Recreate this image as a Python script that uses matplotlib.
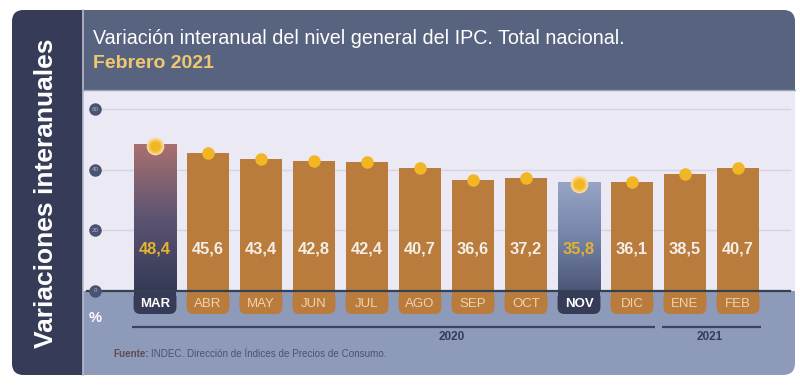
import numpy as np
import matplotlib
matplotlib.use('Agg')
import matplotlib.pyplot as plt
from matplotlib.patches import FancyBboxPatch, Rectangle
from matplotlib.colors import LinearSegmentedColormap

plt.rcParams['font.family'] = ['Liberation Sans', 'DejaVu Sans']

# -------------------- datos --------------------
meses = ['MAR', 'ABR', 'MAY', 'JUN', 'JUL', 'AGO', 'SEP', 'OCT', 'NOV', 'DIC', 'ENE', 'FEB']
valores = [48.4, 45.6, 43.4, 42.8, 42.4, 40.7, 36.6, 37.2, 35.8, 36.1, 38.5, 40.7]
destacados = ['MAR', 'NOV']
yticks = [0, 20, 40, 60]
anios = ['2020', '2021']
anio_inicio = [0, 10]     # indice del primer mes de cada año
anio_fin = [9, 11]        # indice del ultimo mes

# -------------------- colores --------------------
C_SIDE = '#363c57'
C_TITLE = '#58637f'
C_PLOT = '#ebe9f3'
C_BAND = '#8e9aba'
C_BAR = '#b97c3d'
C_LBL = '#f1d3ab'
C_DOT = '#f2b624'
C_GOLD = '#f0c870'

W, H = 800, 387
fig = plt.figure(figsize=(W / 100, H / 100), dpi=100)
fig.patch.set_facecolor('white')

# -------------------- fondo en pixeles --------------------
bg = fig.add_axes([0, 0, 1, 1])
bg.set_xlim(0, W)
bg.set_ylim(H, 0)
bg.axis('off')

bg.add_patch(FancyBboxPatch((12, 10), 783, 365, boxstyle='round,pad=0,rounding_size=12',
                            fc=C_BAND, ec='none'))
bg.add_patch(FancyBboxPatch((12, 10), 90, 365, boxstyle='round,pad=0,rounding_size=12',
                            fc=C_SIDE, ec='none'))
bg.add_patch(FancyBboxPatch((83, 10), 712, 110, boxstyle='round,pad=0,rounding_size=12',
                            fc=C_TITLE, ec='none'))
bg.add_patch(Rectangle((83, 10), 40, 80, fc=C_TITLE, ec='none'))
bg.add_patch(Rectangle((83, 90), 712, 201, fc=C_PLOT, ec='none'))
bg.add_patch(Rectangle((83, 291), 60, 84, fc=C_BAND, ec='none'))
bg.plot([83, 83], [10, 375], color='#b8bccb', lw=1.2)
bg.plot([83, 795], [90, 90], color='#9aa0b8', lw=1)

bg.text(46, 193, 'Variaciones interanuales', rotation=90, ha='center', va='center',
        color='white', fontsize=19, fontweight='bold')
bg.text(93, 38, 'Variación interanual del nivel general del IPC. Total nacional.',
        ha='left', va='center', color='white', fontsize=14.2)
bg.text(93, 64, 'Febrero 2021', ha='left', va='center', color=C_GOLD,
        fontsize=14, fontweight='bold')

# -------------------- eje del grafico --------------------
px_x = 53.0       # pixeles por mes
px_y = 3.033      # pixeles por punto porcentual
x0_px, y0_px = 155, 291
left_px, right_px, top_px, bot_px = 83, 795, 90, 375
ax = fig.add_axes([left_px / W, 1 - bot_px / H, (right_px - left_px) / W, (bot_px - top_px) / H])
ax.set_xlim((left_px - x0_px) / px_x, (right_px - x0_px) / px_x)
ax.set_ylim((y0_px - bot_px) / px_y, (y0_px - top_px) / px_y)
ax.patch.set_alpha(0)
ax.axis('off')

x = np.arange(len(meses))
bw = 0.81
xl = ax.get_xlim()
grid_x0 = (100 - x0_px) / px_x
grid_x1 = (790 - x0_px) / px_x

for t in yticks[1:]:
    ax.plot([grid_x0, grid_x1], [t, t], color='#d6d4e0', lw=1, zorder=1)

# barras
cmaps = {
    'MAR': LinearSegmentedColormap.from_list('mar', ['#353a56', '#5d5472', '#a97070']),
    'NOV': LinearSegmentedColormap.from_list('nov', ['#4c5678', '#7584a8', '#97a4c6']),
}
grad = np.linspace(0, 1, 256).reshape(-1, 1)
for xi, m, v in zip(x, meses, valores):
    if m in destacados:
        ax.imshow(grad, aspect='auto', cmap=cmaps[m], origin='lower',
                  extent=(xi - bw / 2, xi + bw / 2, 0, v), zorder=2)
    else:
        ax.bar(xi, v, width=bw, color=C_BAR, zorder=2)
ax.set_xlim(xl)
ax.set_ylim((y0_px - bot_px) / px_y, (y0_px - top_px) / px_y)

# puntos
for xi, m, v in zip(x, meses, valores):
    if m in destacados:
        ax.plot(xi, v - 0.6, 'o', ms=11.5, mfc='#f5c65a', mec='#f9dc9a', mew=1.2, zorder=4)
        ax.plot(xi, v - 0.6, 'o', ms=7.5, mfc=C_DOT, mec='none', zorder=5)
    else:
        ax.plot(xi, v, 'o', ms=9, mfc=C_DOT, mec='none', zorder=4)

# valores
for xi, m, v in zip(x, meses, valores):
    col = '#e3b230' if m in destacados else '#f5eee6'
    ax.text(xi, 13.8, f'{v:.1f}'.replace('.', ','), ha='center', va='center',
            color=col, fontsize=11.8, fontweight='bold', zorder=6)

# linea de cero
ax.plot([(87 - x0_px) / px_x, (790 - x0_px) / px_x], [0, 0], color='#34424f', lw=1.6, zorder=7)

# etiquetas de meses en cajas
box_h = 23 / px_y
asp = px_x / px_y
for xi, m in zip(x, meses):
    fc = C_SIDE if m in destacados else C_BAR
    ax.add_patch(FancyBboxPatch((xi - bw / 2, -box_h), bw, box_h,
                                boxstyle='round,pad=0,rounding_size=0.13',
                                mutation_aspect=asp, fc=fc, ec='none', zorder=3))
    ax.add_patch(Rectangle((xi - bw / 2, -box_h / 2), bw, box_h / 2, fc=fc, ec='none', zorder=3))
    if m in destacados:
        ax.text(xi, -4.3, m, ha='center', va='center', color='white',
                fontsize=9.5, fontweight='bold', zorder=6)
    else:
        ax.text(xi, -4.3, m, ha='center', va='center', color=C_LBL,
                fontsize=9.5, zorder=6)

# marcas del eje y
tick_x = (95 - x0_px) / px_x
for t in yticks:
    ax.plot(tick_x + 0.06, t, '>', ms=5, mfc='#4a5272', mec='none', zorder=8)
    ax.plot(tick_x, t, 'o', ms=9, mfc='#4a5272', mec='none', zorder=8)
    ax.text(tick_x, t, str(t), ha='center', va='center', color='#aeb3c8',
            fontsize=4.5, zorder=9)
ax.text(tick_x, -8.9, '%', ha='center', va='center', color='white',
        fontsize=10.5, fontweight='bold', zorder=8)

# años
for a, i0, i1 in zip(anios, anio_inicio, anio_fin):
    ax.plot([i0 - bw / 2 - 0.02, i1 - bw / 2 + 0.02 + bw], [-11.9, -11.9],
            color='#3b4263', lw=1.6, solid_capstyle='butt', zorder=6)
xa = [5.6, 10.47]
for a, xx in zip(anios, xa):
    ax.text(xx, -15.1, a, ha='center', va='center', color='#363c57',
            fontsize=8.5, fontweight='bold', zorder=6)

# fuente
fx = (113 - x0_px) / px_x
t1 = ax.text(fx, -20.8, 'Fuente:', ha='left', va='center', color='#5c4e52',
             fontsize=7.1, fontweight='bold', zorder=6)
fig.canvas.draw()
bb = t1.get_window_extent()
fx2 = ax.transData.inverted().transform((bb.x1 + 2, 0))[0]
ax.text(fx2, -20.8, 'INDEC. Dirección de Índices de Precios de Consumo.', ha='left', va='center',
        color='#4c5270', fontsize=7.1, zorder=6)

fig.savefig('out.png', dpi=100)
